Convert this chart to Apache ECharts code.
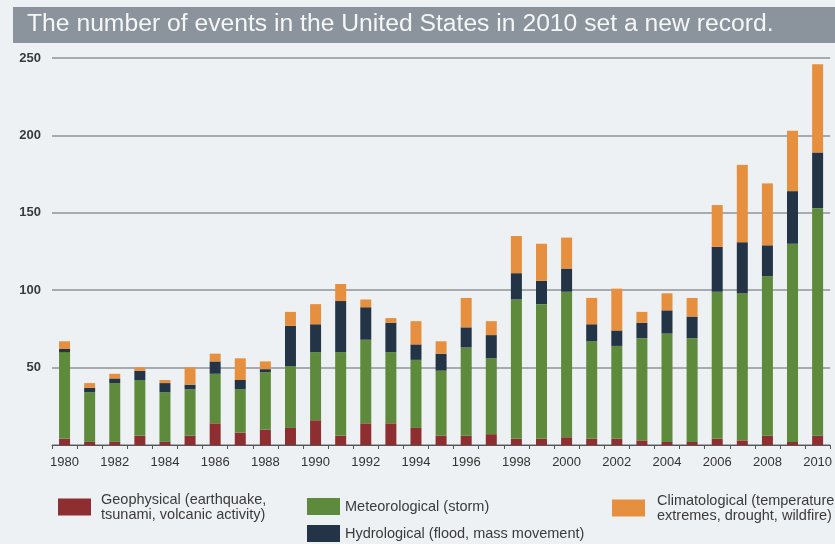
<!DOCTYPE html>
<html>
<head>
<meta charset="utf-8">
<script src="https://cdn.jsdelivr.net/npm/echarts@6/dist/echarts.min.js"></script>
<style>
html,body{margin:0;padding:0;background:#eef1f4;}
#chart{width:835px;height:544px;}
</style>
</head>
<body>
<div id="chart"></div>
<script>
var titleText = 'The number of events in the United States in 2010 set a new record.';
var years = ['1980','1981','1982','1983','1984','1985','1986','1987','1988','1989','1990','1991','1992','1993','1994','1995','1996','1997','1998','1999','2000','2001','2002','2003','2004','2005','2006','2007','2008','2009','2010'];
var geophysical    = [4,2,2,6,2,6,14,8,10,11,16,6,14,14,11,6,6,7,4,4,5,4,4,3,2,2,4,3,6,2,6];
var meteorological = [56,32,38,36,32,30,32,28,37,40,44,54,54,46,44,42,57,49,90,87,94,63,60,66,70,67,95,95,103,128,147];
var hydrological   = [2,3,3,6,6,3,8,6,2,26,18,33,21,19,10,11,13,15,17,15,15,11,10,10,15,14,29,33,20,34,36];
var climatological = [5,3,3,2,2,11,5,14,5,9,13,11,5,3,15,8,19,9,24,24,20,17,27,7,11,12,27,50,40,39,57];
var yTicks = [0,50,100,150,200,250];

var names = {
  geo: 'Geophysical (earthquake,\ntsunami, volcanic activity)',
  met: 'Meteorological (storm)',
  hyd: 'Hydrological (flood, mass movement)',
  cli: 'Climatological (temperature\nextremes, drought, wildfire)'
};
var colors = {geo:'#8e2e30', met:'#5e8a3c', hyd:'#243447', cli:'#e6903f'};

var chart = echarts.init(document.getElementById('chart'), null, {renderer:'canvas'});
var legendText = {fontFamily:'Liberation Sans, Arial, sans-serif', fontSize:14.5, color:'#3a3a3a', lineHeight:15};
function mkLegend(name, left, top, pad){
  return {
    data:[name], left:left, top:top, padding:0, orient:'horizontal',
    itemWidth:33, itemHeight:17, icon:'rect', selectedMode:false,
    textStyle: Object.assign({}, legendText, {padding:pad})
  };
}
function bar(key, data){
  return {
    name:names[key], type:'bar', stack:'total', data:data, barWidth:11,
    itemStyle:{color:colors[key]}, emphasis:{disabled:true}
  };
}
chart.setOption({
  backgroundColor:'#eef1f4',
  animation:false,
  graphic:[
    {type:'rect', left:13, top:7, shape:{width:822, height:36}, style:{fill:'#8b949c'}, z:-1}
  ],
  title:{
    text:titleText, left:27, top:12, padding:0,
    textStyle:{fontFamily:'Liberation Sans, Arial, sans-serif', fontSize:24.7, fontWeight:'normal', color:'#f5f6f7'}
  },
  legend:[
    mkLegend(names.geo, 58, 485, [14,0,0,5]),
    mkLegend(names.met, 307, 498, [0,0,0,0]),
    mkLegend(names.hyd, 307, 525, [0,0,0,0]),
    mkLegend(names.cli, 612, 486, [14,0,0,7])
  ],
  grid:{left:52, right:0, top:58, bottom:99, containLabel:false},
  xAxis:{
    type:'category', data:years, boundaryGap:true,
    axisLine:{show:true, lineStyle:{color:'#555', width:1}},
    axisTick:{show:true, interval:0, length:4, lineStyle:{color:'#555'}},
    axisLabel:{interval:1, margin:11, fontFamily:'Liberation Sans, Arial, sans-serif', fontSize:13, color:'#333'}
  },
  yAxis:{
    type:'value', min:yTicks[0], max:yTicks[yTicks.length-1], interval:50,
    axisLine:{show:false}, axisTick:{show:false},
    axisLabel:{margin:11, fontFamily:'Liberation Sans, Arial, sans-serif', fontSize:13, fontWeight:'bold', color:'#3a3a3a',
      formatter:function(v){ return v === 0 ? '' : String(v); }},
    splitLine:{show:true, lineStyle:{color:'#8e9399', width:1.5}}
  },
  series:[
    bar('geo', geophysical),
    bar('met', meteorological),
    bar('hyd', hydrological),
    bar('cli', climatological)
  ]
});
</script>
</body>
</html>
